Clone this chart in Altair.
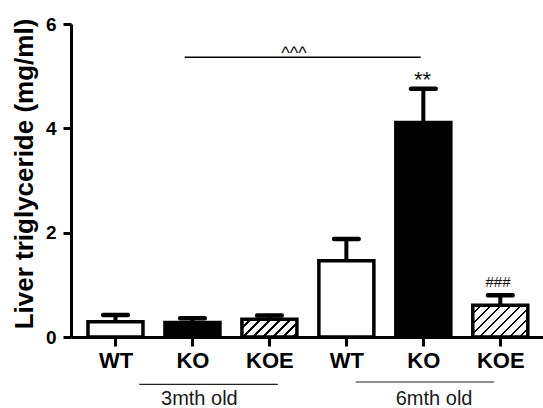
import altair as alt
import pandas as pd

# ---- data ----
positions = [1, 2, 3, 4, 5, 6]
tick_labels = ["WT", "KO", "KOE", "WT", "KO", "KOE"]
genotypes = ["WT", "KO", "KOE", "WT", "KO", "KOE"]
ages = ["3mth", "3mth", "3mth", "6mth", "6mth", "6mth"]
means = [0.29, 0.28, 0.34, 1.46, 4.11, 0.61]
sems = [0.13, 0.08, 0.07, 0.42, 0.65, 0.19]

ann_text = ["^^^", "**", "###"]
ann_x = [3.32, 4.99, 5.97]
ann_y = [5.33, 4.80, 0.964]
ann_size = [18, 22, 15]

sig_x = [1.899]
sig_x2 = [4.965]
sig_y = [5.361]

group_text = ["3mth old", "6mth old"]
group_text_x = [2.09, 5.14]
group_text_y = [-1.31, -1.31]
group_line_x = [1.31, 4.12]
group_line_x2 = [3.11, 5.92]
group_line_y = [-0.91, -0.863]

# ---- layout ----
W, H = 472, 313
PAD_L, PAD_T = 71, 24
X_DOMAIN = [0.487, 6.49]
Y_DOMAIN = [0, 6]
BAR_PX = 55
px_per_y = H / (Y_DOMAIN[1] - Y_DOMAIN[0])

df = pd.DataFrame({
    "pos": positions, "genotype": genotypes, "age": ages,
    "mean": means, "sem": sems,
})
df["upper"] = df["mean"] + df["sem"]

ann_df = pd.DataFrame({"text": ann_text, "x": ann_x, "y": ann_y, "fs": ann_size})
sig_df = pd.DataFrame({"x": sig_x, "x2": sig_x2, "y": sig_y})
gt_df = pd.DataFrame({"text": group_text, "x": group_text_x, "y": group_text_y})
gl_df = pd.DataFrame({"x": group_line_x, "x2": group_line_x2, "y": group_line_y})

xscale = alt.Scale(domain=X_DOMAIN, nice=False, zero=False)
yscale = alt.Scale(domain=Y_DOMAIN, nice=False)

label_expr = "[" + ",".join(f"'{t}'" for t in tick_labels) + "][datum.value - 1]"

X = alt.X("pos:Q", scale=xscale,
          axis=alt.Axis(values=positions, labelExpr=label_expr, title=None,
                        tickSize=9, labelPadding=4, labelFontSize=22,
                        labelFont="Liberation Sans", labelFontWeight="bold"))
Y = alt.Y("mean:Q", scale=yscale,
          axis=alt.Axis(values=[0, 2, 4, 6], title="Liver triglyceride (mg/ml)",
                        tickSize=8, labelPadding=7, labelFontSize=19,
                        labelFont="Liberation Sans", labelFontWeight="bold",
                        labelColor="black",
                        titleFontSize=26, titleFontWeight="bold",
                        titleFont="Liberation Sans", titleColor="black",
                        titleAngle=270, titleAlign="center",
                        titleBaseline="alphabetic", titleX=-39, titleY=149.5))

base = alt.Chart(df)

plain_bars = base.transform_filter(alt.datum.genotype != "KOE").mark_bar(
    size=BAR_PX, stroke="black", strokeWidth=3.5
).encode(
    x=X, y=Y,
    fill=alt.Fill("genotype:N", scale=alt.Scale(domain=["WT", "KO"], range=["white", "black"]),
                  legend=None),
)


def hatch(w, h, period=10.0, frac=0.27):
    k = h / w
    a = (1 + k) / (1 + k * k)
    b = k * a
    total = w + h
    stops = []
    i = 0
    while True:
        s0 = i * period / total
        if s0 >= 1:
            break
        s1 = min(1.0, s0 + (1 - frac) * period / total)
        s2 = min(1.0, (i + 1) * period / total)
        stops += [{"offset": s0, "color": "white"}, {"offset": s1, "color": "white"}]
        if s1 < 1:
            stops += [{"offset": s1, "color": "black"}, {"offset": s2, "color": "black"}]
        i += 1
    return {"gradient": "linear", "x1": 0, "y1": 0, "x2": a, "y2": b, "stops": stops}


koe_layers = []
for age in ["3mth", "6mth"]:
    m = df[(df.genotype == "KOE") & (df.age == age)]["mean"].iloc[0]
    grad = hatch(BAR_PX, m * px_per_y)
    koe_layers.append(
        base.transform_filter((alt.datum.genotype == "KOE") & (alt.datum.age == age))
        .mark_bar(size=BAR_PX, stroke="black", strokeWidth=3.5, fill=grad)
        .encode(x=X, y=Y)
    )

stems = base.mark_rule(color="black", strokeWidth=4).encode(
    x="pos:Q", y="mean:Q", y2="upper:Q"
)
caps = base.mark_tick(orient="horizontal", size=29, thickness=4.5, color="black",
                      cornerRadius=2, opacity=1).encode(
    x="pos:Q", y="upper:Q"
)

ann = alt.Chart(ann_df).mark_text(font="Liberation Sans", color="#111",
                                  baseline="alphabetic", align="center").encode(
    x="x:Q", y="y:Q", text="text:N", size=alt.Size("fs:Q", scale=None, legend=None)
)

sig = alt.Chart(sig_df).mark_rule(color="black", strokeWidth=1.5).encode(
    x="x:Q", x2="x2:Q", y="y:Q"
)

gl = alt.Chart(gl_df).mark_rule(color="#222", strokeWidth=1.2).encode(
    x="x:Q", x2="x2:Q", y="y:Q"
)
gt = alt.Chart(gt_df).mark_text(font="Liberation Sans", fontSize=20, color="#1a1a1a",
                                baseline="alphabetic", align="center").encode(
    x="x:Q", y="y:Q", text="text:N"
)

chart = alt.layer(
    plain_bars, *koe_layers, stems, caps, sig, ann, gl, gt
).properties(
    width=W, height=H,
    autosize=alt.AutoSizeParams(type="none"),
    padding={"left": PAD_L, "top": PAD_T, "right": 0, "bottom": 408 - PAD_T - H},
).configure_view(stroke=None).configure_axis(
    domainColor="black", domainWidth=3, tickColor="black", tickWidth=3, grid=False,
    labelFont="Liberation Sans", labelFontWeight="bold", labelColor="black",
)

chart.save("out.html", embed_options={"renderer": "svg", "actions": False})
